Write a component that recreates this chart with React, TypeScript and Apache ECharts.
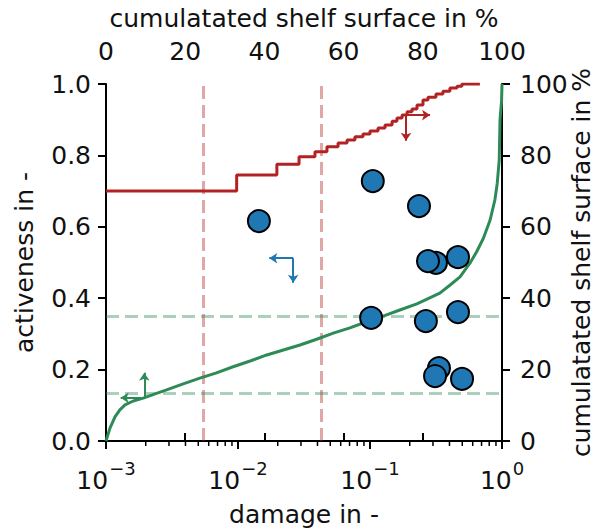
import React, { useEffect, useRef } from 'react';
import * as echarts from 'echarts';

// Blue scatter points: damage (bottom, log) vs activeness (left)
const scatterDamage = [0.0144, 0.105, 0.235, 0.316, 0.275, 0.464, 0.102, 0.265, 0.464, 0.333, 0.311, 0.498];
const scatterActiveness = [0.616, 0.728, 0.658, 0.499, 0.504, 0.515, 0.345, 0.336, 0.361, 0.204, 0.182, 0.174];

// Red step curve: damage (bottom, log) vs cumulated shelf surface (right)
const redDamage = [0.001, 0.00977, 0.0197, 0.029, 0.0383, 0.0472, 0.0573, 0.067, 0.0769, 0.0885, 0.1, 0.115, 0.13, 0.147, 0.16, 0.175, 0.191, 0.208, 0.227, 0.252, 0.275, 0.316, 0.357, 0.403, 0.456, 0.497, 0.68];
const redSurface = [70.0, 74.5, 77.5, 79.6, 81.0, 82.4, 83.5, 84.3, 85.2, 86.0, 86.8, 87.7, 88.5, 89.6, 90.5, 91.3, 92.2, 93.0, 94.1, 95.5, 96.3, 97.2, 98.0, 98.9, 99.4, 100, 100];

// Green curve: cumulated shelf surface (top) vs activeness (left)
const greenSurface = [0, 1.0, 2.3, 3.5, 4.8, 6.9, 9.4, 12.4, 15.3, 19.5, 23.7, 27.9, 32.1, 36.4, 40.6, 44.8, 49.0, 53.2, 57.4, 61.6, 65.8, 70.0, 74.2, 78.5, 84.3, 86.9, 89.4, 91.9, 93.6, 95.3, 97.0, 98.2, 98.8, 99.3, 99.5, 99.9, 100];
const greenActiveness = [0, 0.036, 0.068, 0.087, 0.101, 0.112, 0.120, 0.132, 0.143, 0.160, 0.176, 0.191, 0.208, 0.224, 0.241, 0.255, 0.269, 0.285, 0.302, 0.317, 0.334, 0.350, 0.367, 0.384, 0.414, 0.437, 0.460, 0.498, 0.530, 0.568, 0.619, 0.675, 0.722, 0.787, 0.899, 0.955, 1.0];

// Reference lines
const vLineDamage = [0.00543, 0.0426];
const hLineActiveness = [0.134, 0.35];

// Arrows (corner and ends)
const redArrow = { corner: [0.1875, 91.3], right: [0.285, 91.3], down: [0.1875, 84.1] };
const blueArrow = { corner: [0.0262, 0.512], left: [0.01726, 0.512], down: [0.0262, 0.443] };
const greenArrow = { corner: [9.67, 0.121], left: [3.71, 0.121], up: [9.67, 0.191] };

// Log axis minor ticks
const logMinorTicks = [0.002, 0.003, 0.004, 0.005, 0.006, 0.007, 0.008, 0.009, 0.02, 0.03, 0.04, 0.05, 0.06, 0.07, 0.08, 0.09, 0.2, 0.3, 0.4, 0.5, 0.6, 0.7, 0.8, 0.9];

const TEXT = '#111111';
const FONT = 'DejaVu Sans';
const FS = 25;
const RED = '#b22222';
const GREEN = '#2e8b57';
const BLUE = '#1f77b4';
const RED_FADED = 'rgba(178,34,34,0.4)';
const GREEN_FADED = 'rgba(46,139,87,0.4)';

export default function App() {
  const ref = useRef<HTMLDivElement>(null);
  useEffect(() => {
    document.body.style.margin = '0';
    if (!ref.current) return;
    const chart = echarts.init(ref.current, undefined, { renderer: 'svg' });
    const axisCommon = {
      axisLine: { show: true, lineStyle: { color: '#000', width: 2 } },
      axisTick: { show: true, inside: false, length: 8, lineStyle: { color: '#000', width: 2 } },
      splitLine: { show: false },
      nameLocation: 'middle' as const,
      nameMoveOverlap: false,
      nameTextStyle: { fontSize: FS, color: TEXT, fontFamily: FONT },
    };
    const labelCommon = { fontSize: FS, color: TEXT, fontFamily: FONT };
    const dashStyle = (color: string) => ({ color, width: 3, type: [13, 6], opacity: 1 });
    chart.setOption({
      animation: false,
      grid: { left: 106, right: 99, top: 84, bottom: 91, containLabel: false, outerBoundsMode: 'none' },
      xAxis: [
        {
          ...axisCommon,
          type: 'log',
          logBase: 10,
          min: 0.001,
          max: 1,
          position: 'bottom',
          name: 'damage in -',
          nameGap: 61,
          axisLabel: {
            ...labelCommon,
            margin: 21,
            formatter: (v: number) => {
              const e = Math.round(Math.log10(v));
              return '{b|10}{s|' + (e < 0 ? '\u2212' + -e : String(e)) + '}';
            },
            rich: {
              b: { fontSize: FS, fontFamily: FONT, color: TEXT, lineHeight: 25, padding: [12, 0, 0, 0] },
              s: { fontSize: 18, fontFamily: FONT, color: TEXT, lineHeight: 18, padding: [3, 0, 16, 1] },
            },
          },
        },
        {
          ...axisCommon,
          type: 'value',
          min: 0,
          max: 100,
          interval: 20,
          position: 'top',
          name: 'cumulatated shelf surface in %',
          nameGap: 53,
          axisLabel: { ...labelCommon, margin: 20 },
        },
      ],
      yAxis: [
        {
          ...axisCommon,
          type: 'value',
          min: 0,
          max: 1,
          interval: 0.2,
          position: 'left',
          name: 'activeness in -',
          nameGap: 69,
          axisLabel: { ...labelCommon, margin: 15, formatter: (v: number) => v.toFixed(1) },
        },
        {
          ...axisCommon,
          type: 'value',
          min: 0,
          max: 100,
          interval: 20,
          position: 'right',
          name: 'cumulatated shelf surface in %',
          nameGap: 67,
          axisLabel: { ...labelCommon, margin: 18 },
        },
      ],
      series: [
        {
          type: 'lines',
          coordinateSystem: 'cartesian2d',
          xAxisIndex: 0,
          yAxisIndex: 0,
          silent: true,
          z: 1,
          lineStyle: dashStyle(RED_FADED),
          data: vLineDamage.map((v) => ({ coords: [[v, 0], [v, 1]] })),
        },
        {
          type: 'lines',
          coordinateSystem: 'cartesian2d',
          xAxisIndex: 0,
          yAxisIndex: 0,
          silent: true,
          z: 1,
          lineStyle: dashStyle(GREEN_FADED),
          data: hLineActiveness.map((v) => ({ coords: [[0.001, v], [1, v]] })),
        },
        {
          type: 'line',
          name: 'red',
          xAxisIndex: 0,
          yAxisIndex: 1,
          step: 'end',
          showSymbol: false,
          z: 3,
          lineStyle: { color: RED, width: 3 },
          data: redDamage.map((d, i) => [d, redSurface[i]]),
        },
        {
          type: 'line',
          name: 'green',
          xAxisIndex: 1,
          yAxisIndex: 0,
          showSymbol: false,
          z: 3,
          lineStyle: { color: GREEN, width: 3 },
          data: greenSurface.map((d, i) => [d, greenActiveness[i]]),
        },
        {
          type: 'lines',
          coordinateSystem: 'cartesian2d',
          xAxisIndex: 0,
          yAxisIndex: 1,
          symbol: ['none', 'arrow'],
          symbolSize: 8,
          z: 4,
          lineStyle: { color: RED, width: 2, opacity: 1 },
          data: [
            { coords: [redArrow.corner, redArrow.right] },
            { coords: [redArrow.corner, redArrow.down] },
          ],
        },
        {
          type: 'lines',
          coordinateSystem: 'cartesian2d',
          xAxisIndex: 0,
          yAxisIndex: 0,
          symbol: ['none', 'arrow'],
          symbolSize: 8,
          z: 4,
          lineStyle: { color: BLUE, width: 2, opacity: 1 },
          data: [
            { coords: [blueArrow.corner, blueArrow.left] },
            { coords: [blueArrow.corner, blueArrow.down] },
          ],
        },
        {
          type: 'lines',
          coordinateSystem: 'cartesian2d',
          xAxisIndex: 1,
          yAxisIndex: 0,
          symbol: ['none', 'arrow'],
          symbolSize: 8,
          z: 4,
          lineStyle: { color: GREEN, width: 2, opacity: 1 },
          data: [
            { coords: [greenArrow.corner, greenArrow.left] },
            { coords: [greenArrow.corner, greenArrow.up] },
          ],
        },
        {
          type: 'scatter',
          xAxisIndex: 0,
          yAxisIndex: 0,
          symbolSize: 22,
          z: 5,
          itemStyle: { color: BLUE, borderColor: '#000', borderWidth: 2, opacity: 1 },
          data: scatterDamage.map((d, i) => [d, scatterActiveness[i]]),
        },
      ],
    });
    // minor ticks of the log axis, placed through the axis scale
    const y0 = chart.convertToPixel({ yAxisIndex: 0 }, 0) as number;
    chart.setOption({
      graphic: logMinorTicks.map((v) => {
        const x = chart.convertToPixel({ xAxisIndex: 0 }, v) as number;
        return {
          type: 'line',
          silent: true,
          z: 10,
          shape: { x1: x, y1: y0, x2: x, y2: y0 + 5 },
          style: { stroke: '#000', lineWidth: 1.5 },
        };
      }),
    });
    return () => chart.dispose();
  }, []);
  return <div ref={ref} style={{ width: 601, height: 532 }} />;
}
